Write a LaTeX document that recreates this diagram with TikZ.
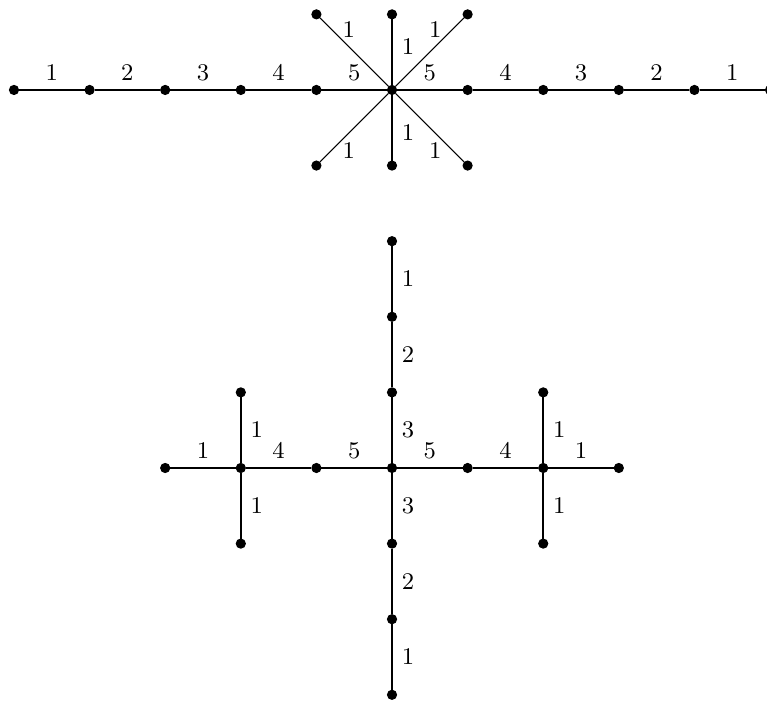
\documentclass[tikz,border=0pt]{standalone}
\usetikzlibrary{arrows.meta}

\begin{document}
\begin{tikzpicture}[
    dot/.style={draw, circle, fill=black, inner sep=0pt, minimum size=0.12cm},
    edge/.style={line width=0.8pt},
    diag/.style={thin},
    wt/.style={font=\small}
]
\useasboundingbox (-0.185,-8.08) rectangle (9.96,1.19);

% Star with two long arms
\node[dot] (h0) at (0,0) {};
\node[dot] (h1) at (1,0) {};
\node[dot] (h2) at (2,0) {};
\node[dot] (h3) at (3,0) {};
\node[dot] (h4) at (4,0) {};
\node[dot] (h5) at (5,0) {};
\node[dot] (h6) at (6,0) {};
\node[dot] (h7) at (7,0) {};
\node[dot] (h8) at (8,0) {};
\node[dot] (h9) at (9,0) {};
\node[dot] (h10) at (10,0) {};
\node[dot] (up) at (5,1) {};
\node[dot] (dn) at (5,-1) {};
\node[dot] (ul) at (4,1) {};
\node[dot] (ur) at (6,1) {};
\node[dot] (dl) at (4,-1) {};
\node[dot] (dr) at (6,-1) {};

\draw[edge] (h0) -- (h1) node[midway, above, wt] {$1$};
\draw[edge] (h1) -- (h2) node[midway, above, wt] {$2$};
\draw[edge] (h2) -- (h3) node[midway, above, wt] {$3$};
\draw[edge] (h3) -- (h4) node[midway, above, wt] {$4$};
\draw[edge] (h4) -- (h5) node[midway, above, wt] {$5$};
\draw[edge] (h5) -- (h6) node[midway, above, wt] {$5$};
\draw[edge] (h6) -- (h7) node[midway, above, wt] {$4$};
\draw[edge] (h7) -- (h8) node[midway, above, wt] {$3$};
\draw[edge] (h8) -- (h9) node[midway, above, wt] {$2$};
\draw[edge] (h9) -- (h10) node[midway, above, wt] {$1$};
\draw[edge] (h5) -- (up) node[pos=0.58, right, wt] {$1$};
\draw[edge] (h5) -- (dn) node[pos=0.58, right, wt] {$1$};
\draw[diag] (h5) -- (ul) node[pos=0.58, above, wt] {$1$};
\draw[diag] (h5) -- (ur) node[pos=0.58, above, wt] {$1$};
\draw[diag] (h5) -- (dl) node[pos=0.58, below, wt] {$1$};
\draw[diag] (h5) -- (dr) node[pos=0.58, below, wt] {$1$};

% Cross with two forks
\node[dot] (c) at (5,-5) {};
\node[dot] (n1) at (5,-2) {};
\node[dot] (n2) at (5,-3) {};
\node[dot] (n3) at (5,-4) {};
\node[dot] (s3) at (5,-6) {};
\node[dot] (s2) at (5,-7) {};
\node[dot] (s1) at (5,-8) {};
\node[dot] (w1) at (2,-5) {};
\node[dot] (w2) at (3,-5) {};
\node[dot] (w3) at (4,-5) {};
\node[dot] (e3) at (6,-5) {};
\node[dot] (e2) at (7,-5) {};
\node[dot] (e1) at (8,-5) {};
\node[dot] (wu) at (3,-4) {};
\node[dot] (wd) at (3,-6) {};
\node[dot] (eu) at (7,-4) {};
\node[dot] (ed) at (7,-6) {};

\draw[edge] (n1) -- (n2) node[midway, right, wt] {$1$};
\draw[edge] (n2) -- (n3) node[midway, right, wt] {$2$};
\draw[edge] (n3) -- (c) node[midway, right, wt] {$3$};
\draw[edge] (c) -- (s3) node[midway, right, wt] {$3$};
\draw[edge] (s3) -- (s2) node[midway, right, wt] {$2$};
\draw[edge] (s2) -- (s1) node[midway, right, wt] {$1$};
\draw[edge] (w1) -- (w2) node[midway, above, wt] {$1$};
\draw[edge] (w2) -- (w3) node[midway, above, wt] {$4$};
\draw[edge] (w3) -- (c) node[midway, above, wt] {$5$};
\draw[edge] (c) -- (e3) node[midway, above, wt] {$5$};
\draw[edge] (e3) -- (e2) node[midway, above, wt] {$4$};
\draw[edge] (e2) -- (e1) node[midway, above, wt] {$1$};
\draw[edge] (wu) -- (w2) node[midway, right, wt] {$1$};
\draw[edge] (w2) -- (wd) node[midway, right, wt] {$1$};
\draw[edge] (eu) -- (e2) node[midway, right, wt] {$1$};
\draw[edge] (e2) -- (ed) node[midway, right, wt] {$1$};

\end{tikzpicture}
\end{document}
